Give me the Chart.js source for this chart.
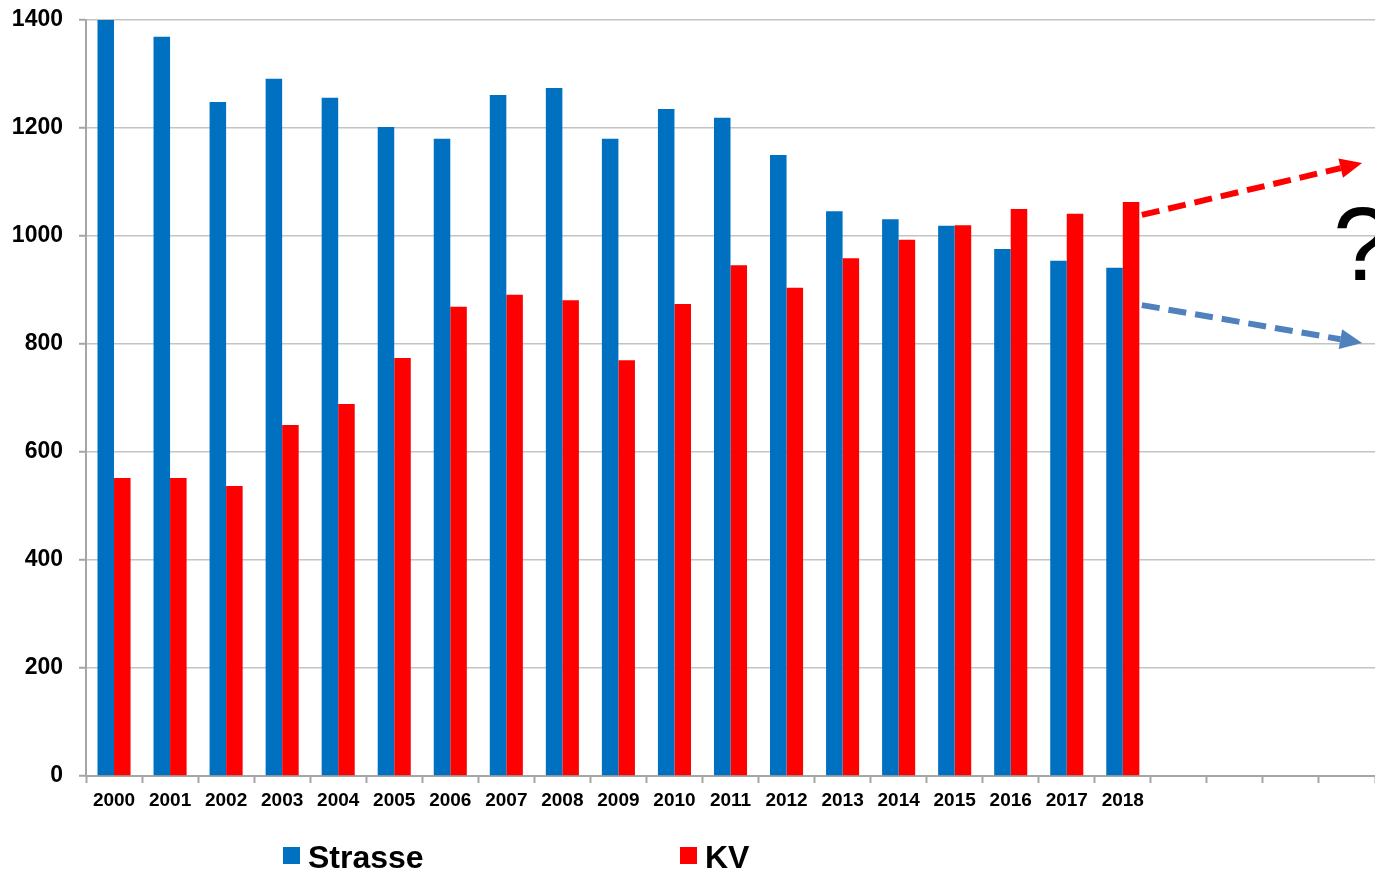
<!DOCTYPE html>
<html>
<head>
<meta charset="utf-8">
<script src="https://cdn.jsdelivr.net/npm/chart.js"></script>
<style>
    html, body { margin: 0; padding: 0; background: #ffffff; }
    #wrap { position: relative; width: 1375px; height: 872px; }
</style>
</head>
<body>
<div id="wrap"><canvas id="verkehrChart"></canvas></div>
<script>
// Daten
const jahre = ['2000', '2001', '2002', '2003', '2004', '2005', '2006', '2007', '2008', '2009',
    '2010', '2011', '2012', '2013', '2014', '2015', '2016', '2017', '2018', '', '', '', ''];
const strasse = [1400, 1369, 1248, 1291, 1256, 1202, 1180, 1261, 1274, 1180,
    1235, 1219, 1150, 1046, 1031, 1019, 976, 954, 941];
const kv = [552, 552, 537, 650, 689, 774, 869, 891, 881, 770,
    874, 946, 904, 959, 993, 1020, 1050, 1041, 1063];
const yTicks = [0, 200, 400, 600, 800, 1000, 1200, 1400];

// Trendpfeile (x = Kategorie-Index, y = Wert)
const pfeile = [
    { von: [18.34, 1039], bis: [22.27, 1135], farbe: '#FF0000' },
    { von: [18.34, 872], bis: [22.27, 802], farbe: '#4F81BD' }
];

const fragezeichen = { x: 21.75, y: 918, text: '?' };

// Pfeile, Fragezeichen und Legende zeichnen
const extras = {
    id: 'extras',
    afterDatasetsDraw(chart) {
        const ctx = chart.ctx;
        const xs = chart.scales.x;
        const ys = chart.scales.y;
        ctx.save();
        pfeile.forEach(p => {
            const x1 = xs.getPixelForValue(p.von[0]);
            const y1 = ys.getPixelForValue(p.von[1]);
            const x2 = xs.getPixelForValue(p.bis[0]);
            const y2 = ys.getPixelForValue(p.bis[1]);
            const ang = Math.atan2(y2 - y1, x2 - x1);
            const kopf = 22;
            const xe = x2 - Math.cos(ang) * kopf;
            const ye = y2 - Math.sin(ang) * kopf;
            ctx.strokeStyle = p.farbe;
            ctx.fillStyle = p.farbe;
            ctx.lineWidth = 6;
            ctx.setLineDash([18, 9]);
            ctx.beginPath();
            ctx.moveTo(x1, y1);
            ctx.lineTo(xe, ye);
            ctx.stroke();
            ctx.setLineDash([]);
            ctx.beginPath();
            ctx.moveTo(x2, y2);
            ctx.lineTo(xe + Math.sin(ang) * 10, ye - Math.cos(ang) * 10);
            ctx.lineTo(xe - Math.sin(ang) * 10, ye + Math.cos(ang) * 10);
            ctx.closePath();
            ctx.fill();
        });
        ctx.fillStyle = '#000000';
        ctx.font = 'normal 104px "Liberation Sans", Arial';
        ctx.textAlign = 'left';
        ctx.textBaseline = 'alphabetic';
        ctx.fillText(fragezeichen.text, xs.getPixelForValue(fragezeichen.x), ys.getPixelForValue(fragezeichen.y));
        ctx.restore();
    },
    afterDraw(chart) {
        const ctx = chart.ctx;
        const pos = [283, 680];
        ctx.save();
        ctx.font = 'bold 32px "Liberation Sans", Arial';
        ctx.textBaseline = 'alphabetic';
        ctx.textAlign = 'left';
        chart.data.datasets.forEach((ds, i) => {
            ctx.fillStyle = ds.backgroundColor;
            ctx.fillRect(pos[i], 847, 17, 17);
            ctx.fillStyle = '#000000';
            ctx.fillText(ds.label, pos[i] + 25, 868);
        });
        ctx.restore();
    }
};

const ctx = document.getElementById('verkehrChart').getContext('2d');
new Chart(ctx, {
    type: 'bar',
    data: {
        labels: jahre,
        datasets: [{
            label: 'Strasse',
            data: strasse,
            backgroundColor: '#0070C0',
            borderWidth: 0,
            categoryPercentage: 0.59,
            barPercentage: 1.0
        }, {
            label: 'KV',
            data: kv,
            backgroundColor: '#FF0000',
            borderWidth: 0,
            categoryPercentage: 0.59,
            barPercentage: 1.0
        }]
    },
    options: {
        responsive: true,
        maintainAspectRatio: false,
        animation: false,
        layout: { padding: { top: 20, left: 0, right: 0, bottom: 0 } },
        plugins: {
            legend: { display: false },
            tooltip: { enabled: false }
        },
        scales: {
            x: {
                afterFit: scale => { scale.height = 96; },
                grid: {
                    drawOnChartArea: false,
                    drawTicks: true,
                    tickLength: 7,
                    tickColor: '#A6A6A6',
                    tickWidth: 2
                },
                border: { color: '#A6A6A6', width: 2 },
                ticks: {
                    color: '#000000',
                    autoSkip: false,
                    maxRotation: 0,
                    padding: 6,
                    font: { family: '"Liberation Sans", Arial', size: 19, weight: 'bold' }
                }
            },
            y: {
                min: 0,
                max: 1400,
                afterFit: scale => {
                    scale.width = 86;
                    scale.paddingTop = 0;
                    scale.paddingBottom = 0;
                },
                afterBuildTicks: scale => { scale.ticks = yTicks.map(v => ({ value: v })); },
                grid: {
                    color: '#C4C4C4',
                    lineWidth: 1.5,
                    drawTicks: true,
                    tickLength: 7,
                    tickColor: '#A6A6A6',
                    tickWidth: 2
                },
                border: { color: '#A6A6A6', width: 2 },
                ticks: {
                    color: '#000000',
                    padding: 16,
                    callback: v => String(v),
                    font: { family: '"Liberation Sans", Arial', size: 23, weight: 'bold' }
                }
            }
        }
    },
    plugins: [extras]
});
</script>
</body>
</html>
